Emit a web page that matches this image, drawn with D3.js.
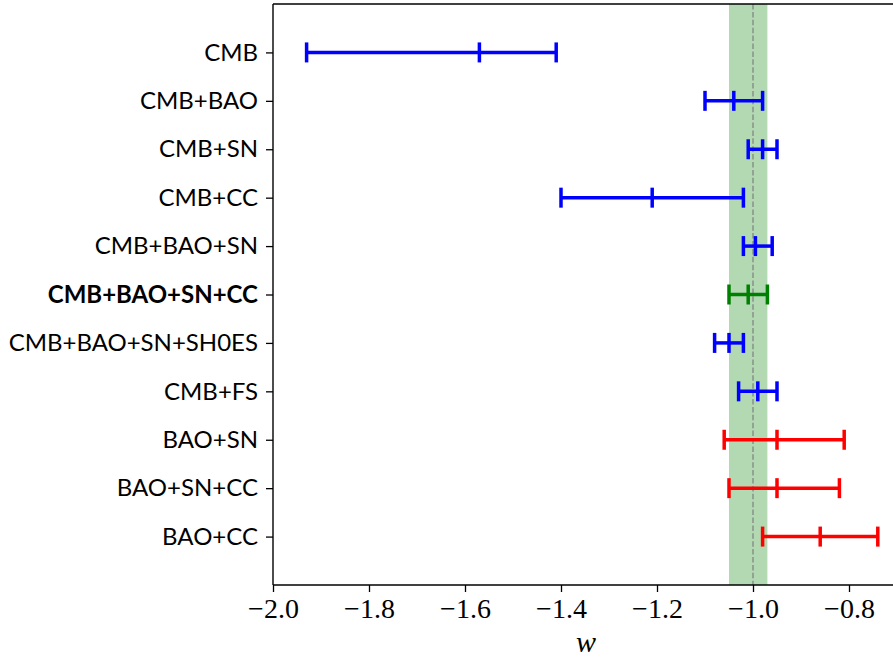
<!DOCTYPE html>
<html>
<head>
<meta charset="utf-8">
<script src="https://cdn.jsdelivr.net/npm/d3@7"></script>
<style>
  html, body { margin: 0; padding: 0; background: #fff; }
  svg { display: block; }
</style>
</head>
<body>
<svg id="chart" width="893" height="659"></svg>
<script>
// ---- data ----
const labels = ["CMB", "CMB+BAO", "CMB+SN", "CMB+CC", "CMB+BAO+SN", "CMB+BAO+SN+CC",
                "CMB+BAO+SN+SH0ES", "CMB+FS", "BAO+SN", "BAO+SN+CC", "BAO+CC"];
const centers = [-1.57, -1.04, -0.98, -1.21, -0.995, -1.01, -1.05, -0.99, -0.95, -0.95, -0.86];
const lowers  = [-1.93, -1.10, -1.01, -1.40, -1.02, -1.05, -1.08, -1.03, -1.06, -1.05, -0.98];
const uppers  = [-1.41, -0.98, -0.95, -1.02, -0.96, -0.97, -1.02, -0.95, -0.81, -0.82, -0.74];
const groups  = ["cmb", "cmb", "cmb", "cmb", "cmb", "best", "cmb", "cmb", "late", "late", "late"];
const xTicks  = [-2.0, -1.8, -1.6, -1.4, -1.2, -1.0, -0.8];
const bandRange = [-1.05, -0.97];
const refLine = -1.0;

const groupColor = { cmb: "#0000ff", best: "#008000", late: "#ff0000" };

// ---- layout ----
const svg = d3.select("#chart");
const margin = { left: 273, top: 4, bottom: 585 };
const x = d3.scaleLinear().domain([-2.0, -0.7]).range([margin.left, margin.left + 624]);
const y = d3.scaleLinear().domain([-1, 11]).range([margin.top, margin.bottom]);

// band
svg.append("rect")
  .attr("x", x(bandRange[0]))
  .attr("y", y(-1))
  .attr("width", x(bandRange[1]) - x(bandRange[0]))
  .attr("height", y(11) - y(-1))
  .attr("fill", "green").attr("fill-opacity", 0.3);

// reference dashed line
svg.append("line")
  .attr("x1", x(refLine)).attr("x2", x(refLine))
  .attr("y1", y(-1)).attr("y2", y(11))
  .attr("stroke", "#808080").attr("stroke-opacity", 0.8)
  .attr("stroke-width", 1.5).attr("stroke-dasharray", "5.5,2.4");

// error bars
const capH = 10;
const rows = svg.append("g").selectAll("g").data(labels).join("g")
  .attr("stroke", (d, i) => groupColor[groups[i]])
  .attr("stroke-width", 3.5);
rows.append("line")
  .attr("x1", (d, i) => x(lowers[i])).attr("x2", (d, i) => x(uppers[i]))
  .attr("y1", (d, i) => y(i)).attr("y2", (d, i) => y(i));
[lowers, centers, uppers].forEach(arr => {
  rows.append("line")
    .attr("x1", (d, i) => x(arr[i])).attr("x2", (d, i) => x(arr[i]))
    .attr("y1", (d, i) => y(i) - capH).attr("y2", (d, i) => y(i) + capH);
});

// x axis
const xAxis = d3.axisBottom(x).tickValues(xTicks).tickSize(7).tickPadding(6)
  .tickFormat(d => d3.format(".1f")(d).replace("-", "\u2212"));
const gx = svg.append("g").attr("transform", `translate(0,${margin.bottom})`).call(xAxis);
gx.select(".domain").remove();
gx.selectAll(".tick line").attr("stroke", "#000").attr("stroke-width", 1.3);
gx.selectAll(".tick text").attr("font-family", "'Liberation Serif', serif")
  .attr("font-size", 28).attr("fill", "#000");

// y axis
const yAxis = d3.axisLeft(y).tickValues(d3.range(labels.length)).tickSize(7).tickPadding(8)
  .tickFormat(i => labels[i]);
const gy = svg.append("g").attr("transform", `translate(${margin.left},0)`).call(yAxis);
gy.select(".domain").remove();
gy.selectAll(".tick line").attr("stroke", "#000").attr("stroke-width", 1.3);
gy.selectAll(".tick text").attr("font-family", "Lato, sans-serif")
  .attr("font-size", 24).attr("fill", "#000")
  .attr("font-weight", i => groups[i] === "best" ? "bold" : "normal");

// spines
svg.append("line").attr("x1", margin.left).attr("x2", margin.left)
  .attr("y1", margin.top).attr("y2", margin.bottom).attr("stroke", "#000").attr("stroke-width", 1.4);
svg.append("line").attr("x1", margin.left).attr("x2", 893)
  .attr("y1", margin.bottom).attr("y2", margin.bottom).attr("stroke", "#000").attr("stroke-width", 1.4);
svg.append("line").attr("x1", margin.left).attr("x2", 893)
  .attr("y1", margin.top).attr("y2", margin.top).attr("stroke", "#000").attr("stroke-width", 1.4);

// x label
svg.append("text").attr("x", 586).attr("y", 652)
  .attr("text-anchor", "middle")
  .attr("font-family", "'Liberation Serif', serif").attr("font-style", "italic")
  .attr("font-size", 30).text("w");
</script>
</body>
</html>
